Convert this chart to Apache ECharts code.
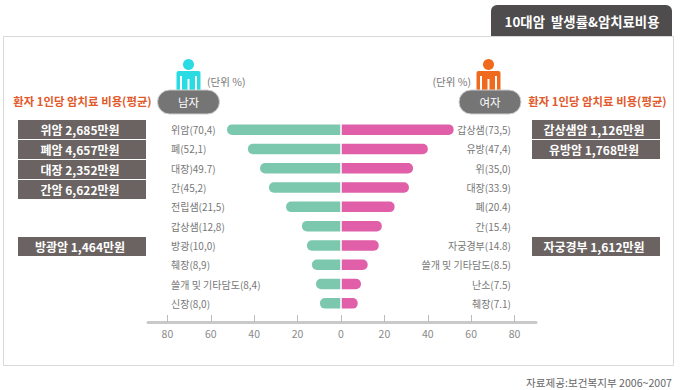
<!DOCTYPE html>
<html>
<head>
<meta charset="utf-8">
<style>
  html, body { margin: 0; padding: 0; background: #fff; }
  #chart { width: 684px; height: 390px; }
</style>
<script src="https://cdn.jsdelivr.net/npm/echarts@6/dist/echarts.min.js"></script>
</head>
<body>
<div id="chart"></div>
<script>
// printed labels, spelled as in the picture
var maleLabels = ['위암(70,4)', '폐(52,1)', '대장)49.7)', '간(45,2)', '전립샘(21,5)', '갑상샘(12,8)', '방광(10,0)', '췌장(8,9)', '쓸개 및 기타담도(8,4)', '신장(8,0)'];
var femaleLabels = ['갑상샘(73,5)', '유방(47,4)', '위(35,0)', '대장(33.9)', '폐(20.4)', '간(15.4)', '자궁경부(14.8)', '쓸개 및 기타담도(8.5)', '난소(7.5)', '췌장(7.1)'];

// bar lengths as drawn against the axis (they do not follow the printed numbers)
var maleBars = [-52.5, -42.9, -37.3, -33.2, -25.3, -18, -15.7, -13.4, -11.5, -9.7];
var femaleBars = [51.9, 40, 33.2, 31.3, 24.7, 18.8, 17.4, 12.3, 9.2, 7.7];

var tickValues = [-80, -60, -40, -20, 0, 20, 40, 60, 80];

var maleCosts = ['위암 2,685만원', '폐암 4,657만원', '대장 2,352만원', '간암 6,622만원', '방광암 1,464만원'];
var femaleCosts = ['갑상샘암 1,126만원', '유방암 1,768만원', '자궁경부 1,612만원'];

var font = '"Noto Sans CJK KR", "Noto Sans", sans-serif';

function costBox(x, y, label) {
  return {
    type: 'rect',
    shape: { x: x, y: y, width: 128, height: 19 },
    style: { fill: '#6b6361' },
    textContent: {
      style: { text: label, fill: '#fff', font: 'bold 12px ' + font, align: 'center', verticalAlign: 'middle' }
    },
    textConfig: { position: 'inside', offset: [-2, 0] }
  };
}

function txt(x, y, label, size, color, align, weight) {
  return {
    type: 'text', x: x, y: y,
    style: { text: label, fill: color, font: (weight || 'normal') + ' ' + size + 'px ' + font, align: align, verticalAlign: 'middle' }
  };
}

function person(cx, color) {
  return [
    { type: 'circle', shape: { cx: cx, cy: 64.5, r: 5.5 }, style: { fill: color } },
    { type: 'rect', shape: { x: cx - 12, y: 71, width: 24, height: 20, r: [2, 2, 0, 0] }, style: { fill: color } },
    { type: 'rect', shape: { x: cx - 8.5, y: 76, width: 2, height: 15 }, style: { fill: '#fff' } },
    { type: 'rect', shape: { x: cx + 6.5, y: 76, width: 2, height: 15 }, style: { fill: '#fff' } },
    { type: 'rect', shape: { x: cx - 1, y: 79, width: 2, height: 12 }, style: { fill: '#fff' } }
  ];
}

function pill(x, label) {
  return {
    type: 'rect',
    shape: { x: x, y: 90, width: 62, height: 24, r: 12 },
    style: { fill: '#757575', stroke: '#d0d0d0', lineWidth: 1 },
    textContent: { style: { text: label, fill: '#fff', font: '11.5px ' + font, align: 'center', verticalAlign: 'middle' } },
    textConfig: { position: 'inside' }
  };
}

var maleTops = [120, 140, 160, 180, 237];
var femaleTops = [120, 140, 237];

var graphics = [
  { type: 'rect', shape: { x: 3.5, y: 36.5, width: 670, height: 329 }, style: { fill: '#fff', stroke: '#d9d9d9', lineWidth: 1 } },
  { type: 'rect', shape: { x: 491, y: 5, width: 181, height: 31, r: [6, 6, 0, 0] }, style: { fill: '#4e4c4d' } },
  txt(582, 21, '10대암  발생률&암치료비용', 13.4, '#fff', 'center', 'bold'),
  txt(207, 81, '(단위 %)', 10.5, '#777', 'left'),
  txt(471, 81, '(단위 %)', 10.5, '#777', 'right'),
  txt(82.5, 101, '환자 1인당 암치료 비용(평균)', 11.4, '#e25a2b', 'center', 'bold'),
  txt(597.5, 101, '환자 1인당 암치료 비용(평균)', 11.4, '#e25a2b', 'center', 'bold'),
  txt(672, 382, '자료제공:보건복지부 2006~2007', 10.6, '#666', 'right')
].concat(person(188.5, '#2adbe3'), person(488.5, '#ef6a1c'), [pill(157.5, '남자'), pill(459, '여자')]);

maleCosts.forEach(function(c, i) { graphics.push(costBox(18, maleTops[i], c)); });
femaleCosts.forEach(function(c, i) { graphics.push(costBox(532, femaleTops[i], c)); });

var chart = echarts.init(document.getElementById('chart'), null, { renderer: 'svg' });
chart.setOption({
  animation: false,
  textStyle: { fontFamily: font },
  grid: { left: 148, right: 148, top: 120, height: 193 },
  graphic: { elements: graphics },
  xAxis: {
    type: 'value', min: -88.94, max: 89.86, position: 'bottom', offset: 9,
    splitLine: { show: false },
    axisLine: { show: true, onZero: false, lineStyle: { color: '#c9c9c9', width: 3 } },
    axisTick: { show: true, inside: true, length: 7, lineStyle: { color: '#bbb', width: 1 }, customValues: tickValues },
    axisLabel: {
      color: '#8a8a8a', fontSize: 10.5, margin: 6, customValues: tickValues,
      formatter: function(v) { return Math.abs(v); }
    }
  },
  yAxis: [
    {
      type: 'category', inverse: true, data: maleLabels, position: 'left',
      axisLine: { show: false }, axisTick: { show: false },
      axisLabel: { inside: true, align: 'left', margin: 23, color: '#777', fontSize: 10, interval: 0 }
    },
    {
      type: 'category', inverse: true, data: femaleLabels, position: 'right',
      axisLine: { show: false }, axisTick: { show: false },
      axisLabel: { inside: true, align: 'right', margin: 25, color: '#777', fontSize: 10, interval: 0 }
    }
  ],
  series: [
    { type: 'bar', name: '남자', yAxisIndex: 0, data: maleBars, barWidth: 10.5, itemStyle: { color: '#7cc8ae', borderRadius: [5, 0, 0, 5] } },
    {
      type: 'bar', name: '여자', yAxisIndex: 1, data: femaleBars, barWidth: 10.5, itemStyle: { color: '#e05fa8', borderRadius: [0, 5, 5, 0] },
      // thin white seam between the two halves
      markLine: { silent: true, symbol: 'none', label: { show: false }, lineStyle: { color: '#fff', width: 1.5, type: 'solid' }, data: [{ xAxis: 0 }] }
    }
  ]
});
</script>
</body>
</html>
